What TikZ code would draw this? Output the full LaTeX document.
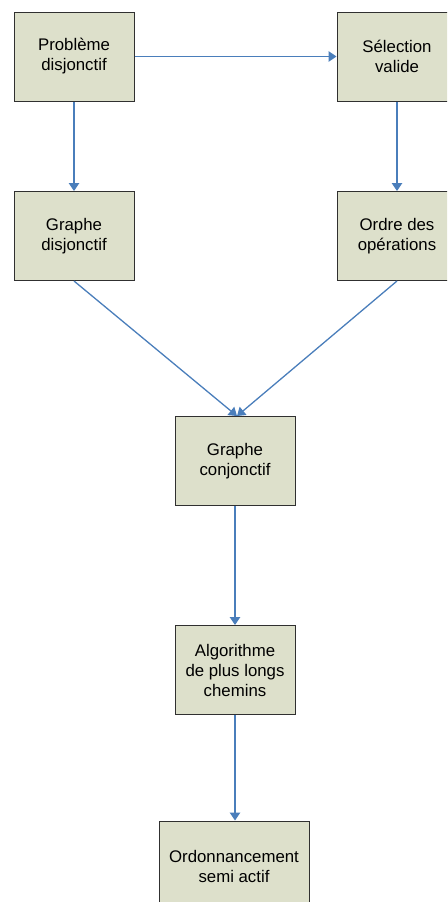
\documentclass[tikz,border=0pt]{standalone}
\usepackage{fontspec}
\setmainfont{Liberation Sans}
\usetikzlibrary{arrows.meta}
\definecolor{boxfill}{HTML}{DDE0CB}
\definecolor{arrowblue}{HTML}{4A7EBB}
\definecolor{boxline}{HTML}{303030}
\begin{document}
\begin{tikzpicture}[x=1pt,y=-1pt,
  box/.style={draw=boxline,line width=1pt,fill=boxfill,minimum width=120pt,minimum height=89pt,
    align=center,inner sep=0pt,font=\fontsize{16.8}{20}\selectfont},
  conn/.style={draw=arrowblue,line width=1.3pt,-{Triangle[width=10.5pt,length=8pt]}}]
\useasboundingbox (0,0) rectangle (447,902);
\begin{scope}
\clip (0,0) rectangle (447,902);
\node[box] (pb) at (74,56.5) {Problème\\disjonctif};
\node[box] (sv) at (397,56.5) {Sélection\\valide};
\node[box] (gd) at (74,236) {Graphe\\disjonctif};
\node[box] (od) at (397,236) {Ordre des\\opérations};
\node[box] (gc) at (235,461) {Graphe\\conjonctif};
\node[box] (al) at (235,670) {Algorithme\\de plus longs\\chemins};
\node[box,minimum width=150pt,minimum height=90pt] (os) at (234,866) {Ordonnancement\\semi actif};
\coordinate (meet) at (237,416);
\draw[conn] (pb) -- (sv);
\draw[conn] (pb) -- (gd);
\draw[conn] (sv) -- (od);
\draw[conn] (gd.south) -- (meet);
\draw[conn] (od.south) -- (meet);
\draw[conn] (gc) -- (al);
\draw[conn] (al.south) -- (al.south |- os.north);
\end{scope}
\end{tikzpicture}
\end{document}
